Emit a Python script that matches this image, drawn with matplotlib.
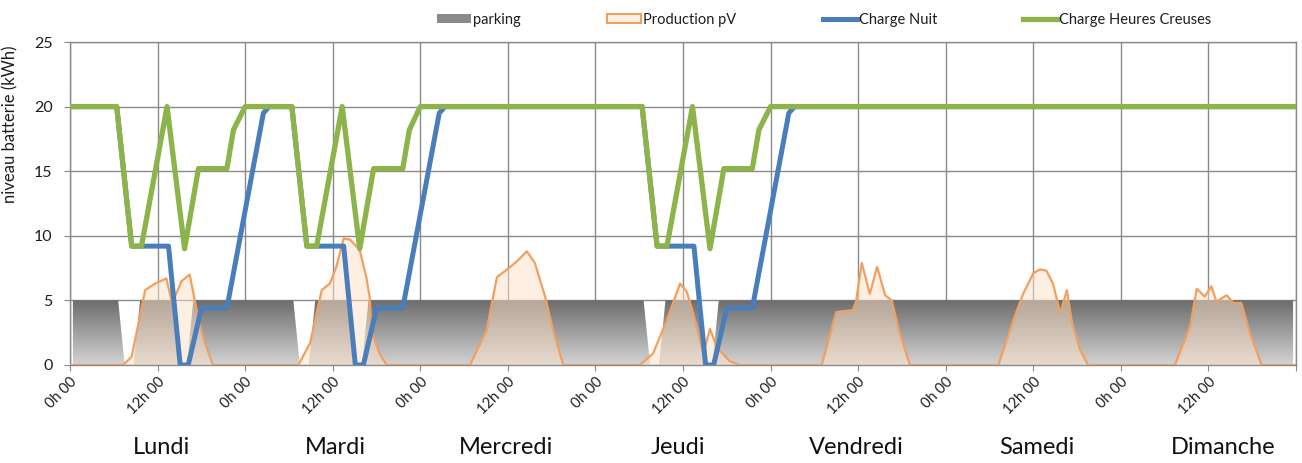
import numpy as np
import matplotlib
matplotlib.use('Agg')
import matplotlib.pyplot as plt
from matplotlib.colors import LinearSegmentedColormap
from matplotlib.lines import Line2D
from matplotlib.patches import Patch

# ---------------- data ----------------
tick_hours = [0, 12, 24, 36, 48, 60, 72, 84, 96, 108, 120, 132, 144, 156, 168]
tick_labels = ['0h 00', '12h 00', '0h 00', '12h 00', '0h 00', '12h 00', '0h 00', '12h 00',
               '0h 00', '12h 00', '0h 00', '12h 00', '0h 00', '12h 00', '']
days = ['Lundi', 'Mardi', 'Mercredi', 'Jeudi', 'Vendredi', 'Samedi', 'Dimanche']
day_centers = [12.6, 36.4, 59.8, 83.3, 107.7, 132.5, 158.0]

parking_t = [0.4, 6.6, 7.5, 8.7, 9.6, 13.9, 15.0, 16.0, 16.9,
             30.6, 31.5, 32.7, 33.6, 37.9, 39.0, 40.0, 40.9,
             78.6, 79.5, 80.7, 81.6, 85.9, 87.0, 88.0, 88.9, 167.6]
parking_v = [5, 5, 0, 0, 5, 5, 0, 0, 5,
             5, 0, 0, 5, 5, 0, 0, 5,
             5, 0, 0, 5, 5, 0, 0, 5, 5]

pv_t = [0, 7.3, 8.45, 9.1, 10.3, 11.65, 13.2, 14.0, 15.3, 16.4, 17.1, 17.6, 18.5, 19.6,
        31.3, 32.9, 34.5, 35.6, 36.5, 37.5, 38.4, 39.7, 40.6, 41.1, 41.3, 42.5, 43.4,
        54.8, 57.1, 58.5, 59.8, 61.2, 62.6, 63.7, 65.1, 66.2, 67.6,
        78.1, 79.9, 81.8, 83.6, 84.5, 85.4, 86.8, 87.7, 88.6, 90.4, 91.8,
        103.0, 105.0, 107.3, 107.7, 108.5, 109.6, 110.6, 111.7, 112.6, 113.7, 115.1,
        127.2, 129.3, 130.6, 132.0, 132.9, 133.8, 134.7, 135.7, 136.6, 137.3, 138.4, 139.5,
        151.4, 153.5, 154.4, 155.5, 156.4, 157.1, 158.5, 159.4, 160.5, 161.7, 163.3, 168]
pv_v = [0, 0, 0.65, 2.45, 5.8, 6.3, 6.7, 4.8, 6.5, 7.0, 5.0, 3.5, 1.7, 0,
        0, 1.7, 5.8, 6.3, 7.6, 9.8, 9.7, 8.9, 6.8, 5.1, 2.6, 0.8, 0,
        0, 2.7, 6.8, 7.35, 8.0, 8.8, 7.9, 5.3, 2.7, 0,
        0, 0.9, 3.5, 6.3, 5.7, 4.0, 0.9, 2.8, 1.4, 0.3, 0,
        0, 4.1, 4.25, 4.9, 7.9, 5.5, 7.6, 5.4, 5.0, 2.45, 0,
        0, 3.5, 5.5, 7.1, 7.4, 7.3, 6.3, 4.0, 5.8, 3.3, 1.2, 0,
        0, 3.0, 5.9, 5.3, 6.1, 4.9, 5.4, 4.8, 4.8, 2.45, 0, 0]

nuit_t = [0, 6.4, 8.45, 13.5, 15.1, 16.2, 18.0, 21.5, 26.5, 27.3,
          30.4, 32.45, 37.5, 39.1, 40.2, 42.0, 45.6, 50.6, 51.4,
          78.4, 80.45, 85.5, 87.1, 88.2, 90.0, 93.5, 98.5, 99.3, 168]
nuit_v = [20, 20, 9.2, 9.2, 0, 0, 4.4, 4.4, 19.5, 20,
          20, 9.2, 9.2, 0, 0, 4.4, 4.4, 19.5, 20,
          20, 9.2, 9.2, 0, 0, 4.4, 4.4, 19.5, 20, 20]

hc_t = [0, 6.4, 8.45, 9.8, 13.3, 15.7, 17.6, 21.5, 22.4, 24.0,
        30.4, 32.45, 33.8, 37.3, 39.7, 41.6, 45.6, 46.5, 48.0,
        78.4, 80.45, 81.8, 85.3, 87.7, 89.6, 93.5, 94.4, 96.0, 168]
hc_v = [20, 20, 9.2, 9.2, 20, 9.0, 15.2, 15.2, 18.2, 20,
        20, 9.2, 9.2, 20, 9.0, 15.2, 15.2, 18.2, 20,
        20, 9.2, 9.2, 20, 9.0, 15.2, 15.2, 18.2, 20, 20]

# ---------------- figure ----------------
plt.rcParams['font.family'] = ['Lato', 'DejaVu Sans']
fig = plt.figure(figsize=(13.02, 4.63), dpi=100)
W, H = 1302, 463
ax = fig.add_axes([70 / W, 1 - 365 / H, 1226 / W, 323 / H])

GRID = '#8a8a8a'
TXT = '#1e1e1e'
PV_LINE = '#f0a060'
PV_FILL = '#fde2c8'
BLUE = '#4a7ebb'
GREEN = '#8db44a'

# parking area with vertical gradient
park = ax.fill_between(parking_t, parking_v, 0, facecolor='none', lw=0, zorder=1)
grad = np.linspace(0, 1, 256).reshape(-1, 1)
cmap = LinearSegmentedColormap.from_list('park', ['#d4d4d4', '#6c6c6c'])
im = ax.imshow(grad, extent=[0, 168, 0, 5], origin='lower', aspect='auto',
               cmap=cmap, zorder=1, interpolation='bilinear')
im.set_clip_path(park.get_paths()[0], ax.transData)

# production pV
ax.fill_between(pv_t, pv_v, 0, color=PV_FILL, alpha=0.5, lw=0, zorder=2)
ax.plot(pv_t, pv_v, color=PV_LINE, lw=1.6, zorder=3)

# charges
ax.plot(nuit_t, nuit_v, color=BLUE, lw=3.6, zorder=4)
ax.plot(hc_t, hc_v, color=GREEN, lw=3.8, zorder=5)

ax.set_xlim(0, 168)
ax.set_ylim(0, 25)
ax.set_yticks([0, 5, 10, 15, 20, 25])
ax.set_xticks(tick_hours)
ax.set_xticklabels(tick_labels, rotation=45, ha='right', rotation_mode='anchor',
                   fontsize=10.5, color=TXT)
ax.tick_params(axis='y', labelsize=11.5, labelcolor=TXT, length=4.5, color=GRID, pad=8)
ax.tick_params(axis='x', length=4, color=GRID, pad=3)
ax.set_axisbelow(True)
ax.grid(True, color=GRID, lw=1.0)
for s in ax.spines.values():
    s.set_color(GRID)
    s.set_linewidth(1.0)

ax.set_ylabel('niveau batterie (kWh)', fontsize=12, color=TXT)
ax.yaxis.set_label_coords((18 - 70) / 1226, (365 - 124) / 323)

for d, c in zip(days, day_centers):
    ax.text(c, -6.4, d, ha='center', va='center', fontsize=17, color='#111111',
            clip_on=False)

entries = [
    (Patch(facecolor='#8a8a8a', edgecolor='none'), 'parking', 437),
    (Patch(facecolor='#fdf0e4', edgecolor=PV_LINE, lw=1.5), 'Production pV', 607),
    (Line2D([], [], color=BLUE, lw=3.6), 'Charge Nuit', 823),
    (Line2D([], [], color=GREEN, lw=3.8), 'Charge Heures Creuses', 1023),
]
for h, lab, x in entries:
    leg = fig.legend([h], [lab], loc='center left', bbox_to_anchor=(x / W, 1 - 20 / H),
                     frameon=False, fontsize=10.5, handlelength=2.3, handletextpad=0.15,
                     borderpad=0, borderaxespad=0, handleheight=0.55)
    for t in leg.get_texts():
        t.set_color(TXT)

fig.savefig('out.png', dpi=100)
